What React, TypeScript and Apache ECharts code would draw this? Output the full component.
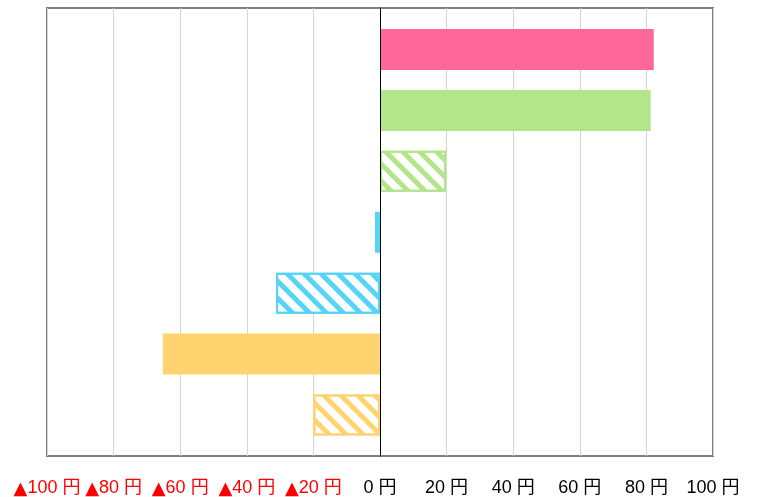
import React, { useEffect, useRef } from "react";
import * as echarts from "echarts";

const categories = ["A", "B", "C", "D", "E", "F", "G"];
const values = [82.2, 81.3, 19.8, -1.5, -31.2, -65.2, -20];
const colors = ["#FF6699", "#B3E58A", "#B3E58A", "#55D4F7", "#55D4F7", "#FFD470", "#FFD470"];
const hatched = [false, false, true, false, true, false, true];
const tickMin = -100;
const tickMax = 100;
const tickStep = 20;

const labelFont = "Liberation Sans, Noto Sans CJK JP, sans-serif";

export default function App() {
  const ref = useRef<HTMLDivElement>(null);
  useEffect(() => {
    if (!ref.current) return;
    const chart = echarts.init(ref.current, null, { renderer: "svg" });
    const data = values.map((v, i) => {
      const c = colors[i];
      if (hatched[i]) {
        return {
          value: v,
          itemStyle: {
            color: "#ffffff",
            borderColor: c,
            borderWidth: 2,
            decal: {
              symbol: "rect",
              symbolSize: 1,
              color: c,
              backgroundColor: "#ffffff",
              dashArrayX: [1, 0],
              dashArrayY: [5, 7],
              rotation: Math.PI / 4,
            },
          },
        };
      }
      return { value: v, itemStyle: { color: c } };
    });
    chart.setOption({
      animation: false,
      grid: [
        { left: 47, right: 44, top: 19, bottom: 51.5, show: false },
        {
          left: 47,
          right: 44,
          top: 8,
          bottom: 41,
          show: true,
          borderColor: "#808080",
          borderWidth: 2,
          backgroundColor: "transparent",
        },
      ],
      xAxis: [
        {
          gridIndex: 0,
          type: "value",
          min: tickMin,
          max: tickMax,
          interval: tickStep,
          show: false,
        },
        {
          gridIndex: 1,
          type: "value",
          min: tickMin,
          max: tickMax,
          interval: tickStep,
          axisLine: { show: false },
          axisTick: { show: false },
          splitLine: { show: true, lineStyle: { color: "#d4d4d4", width: 1 } },
          axisLabel: {
            margin: 22,
            fontSize: 18,
            fontFamily: labelFont,
            color: "#000000",
            formatter: (v: number) =>
              v < 0 ? "{tri|▲}{neg|" + -v + " 円}" : v + " 円",
            rich: {
              tri: {
                color: "#FF0000",
                fontSize: 18,
                fontFamily: "DejaVu Sans, sans-serif",
              },
              neg: {
                color: "#FF0000",
                fontSize: 18,
                fontFamily: labelFont,
              },
            },
          },
        },
      ],
      yAxis: [
        {
          gridIndex: 0,
          type: "category",
          data: categories,
          inverse: true,
          show: false,
        },
        {
          gridIndex: 1,
          type: "value",
          min: 0,
          max: 1,
          z: 5,
          axisLine: { show: true, onZero: true, lineStyle: { color: "#000000", width: 1 } },
          axisTick: { show: false },
          axisLabel: { show: false },
          splitLine: { show: false },
        },
      ],
      series: [
        {
          type: "bar",
          xAxisIndex: 0,
          yAxisIndex: 0,
          barWidth: 41,
          data,
        },
      ],
    });
    return () => chart.dispose();
  }, []);
  return (
    <div
      ref={ref}
      style={{ position: "fixed", left: 0, top: 0, width: 757, height: 497 }}
    />
  );
}
